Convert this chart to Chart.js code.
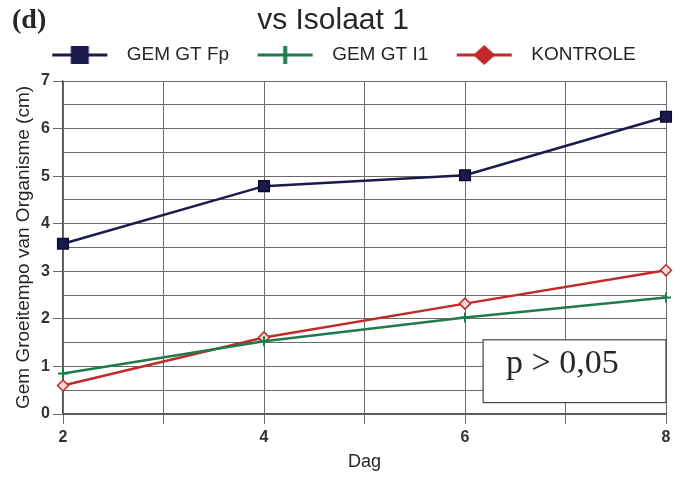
<!DOCTYPE html>
<html>
<head>
<meta charset="utf-8">
<script src="https://cdn.jsdelivr.net/npm/chart.js@4.4.1/dist/chart.umd.min.js"></script>
<style>
  html, body { margin: 0; padding: 0; background: #fff; }
  #wrap { width: 683px; height: 478px; }
</style>
</head>
<body>
<div id="wrap"><canvas id="groeiChart" width="683" height="478"></canvas></div>
<script>
// days measured and mean growth per group
const dagen = [2, 4, 6, 8];
const gemFp = [3.58, 4.79, 5.02, 6.25];
const gemI1 = [0.85, 1.53, 2.03, 2.45];
const kontrole = [0.60, 1.61, 2.32, 3.02];

const seriesNames = ['GEM GT Fp', 'GEM GT I1', 'KONTROLE'];
const seriesColors = ['#1b1a4f', '#1f7a4c', '#c22a2a'];
const pLabel = 'p > 0,05';

const gridColor = '#6a6a6a';
const textColor = '#262626';

function toPoints(values) {
    return values.map((v, i) => ({x: dagen[i], y: v}));
}

// legend swatch: short line with the series marker in the middle
function legendSwatch(color, style) {
    const c = document.createElement('canvas');
    c.width = 87;
    c.height = 20;
    const g = c.getContext('2d');
    const x0 = 22, x1 = 77, cx = (x0 + x1) / 2, cy = 10;
    g.strokeStyle = color;
    g.fillStyle = color;
    g.lineWidth = 3;
    g.beginPath();
    g.moveTo(x0, cy);
    g.lineTo(x1, cy);
    g.stroke();
    if (style === 'rect') {
        g.fillRect(cx - 9, cy - 9, 18, 18);
    } else if (style === 'cross') {
        g.lineWidth = 4;
        g.beginPath();
        g.moveTo(cx, cy - 9);
        g.lineTo(cx, cy + 9);
        g.stroke();
    } else {
        g.beginPath();
        g.moveTo(cx, cy - 10);
        g.lineTo(cx + 11, cy);
        g.lineTo(cx, cy + 10);
        g.lineTo(cx - 11, cy);
        g.closePath();
        g.fill();
    }
    return c;
}

const swatches = [
    legendSwatch(seriesColors[0], 'rect'),
    legendSwatch(seriesColors[1], 'cross'),
    legendSwatch(seriesColors[2], 'diamond')
];

// panel letter and the p-value box
const extras = {
    id: 'extras',
    afterDatasetsDraw(chart) {
        const {ctx, chartArea, scales} = chart;
        const left = scales.x.getPixelForValue(6.18);
        const right = chartArea.right;
        const top = scales.y.getPixelForValue(1.56);
        const bottom = scales.y.getPixelForValue(0.24);
        ctx.save();
        ctx.fillStyle = '#fff';
        ctx.fillRect(left, top, right - left, bottom - top);
        ctx.strokeStyle = '#444';
        ctx.lineWidth = 1.2;
        ctx.strokeRect(left, top, right - left, bottom - top);
        ctx.fillStyle = textColor;
        ctx.font = '34px "Liberation Serif", serif';
        ctx.textBaseline = 'alphabetic';
        ctx.fillText(pLabel, left + 23, top + 33);
        ctx.restore();
    },
    afterDraw(chart) {
        const ctx = chart.ctx;
        ctx.save();
        ctx.fillStyle = textColor;
        ctx.font = 'bold 28px "Liberation Serif", serif';
        ctx.textBaseline = 'alphabetic';
        ctx.fillText('(d)', 12, 28);
        ctx.restore();
    }
};

const ctx = document.getElementById('groeiChart').getContext('2d');
const chart = new Chart(ctx, {
    type: 'line',
    data: {
        datasets: [
            {
                label: seriesNames[0],
                data: toPoints(gemFp),
                borderColor: seriesColors[0],
                backgroundColor: seriesColors[0],
                borderWidth: 2.5,
                pointStyle: 'rect',
                pointRadius: 7.5,
                pointBorderColor: '#0d0c2a',
                pointBorderWidth: 1.5,
                clip: 12
            },
            {
                label: seriesNames[1],
                data: toPoints(gemI1),
                borderColor: seriesColors[1],
                backgroundColor: seriesColors[1],
                borderWidth: 2.5,
                pointStyle: 'cross',
                pointRadius: 5,
                pointBorderWidth: 2,
                clip: 12
            },
            {
                label: seriesNames[2],
                data: toPoints(kontrole),
                borderColor: seriesColors[2],
                backgroundColor: '#f3d6d6',
                borderWidth: 2.5,
                pointStyle: 'rectRot',
                pointRadius: 5.5,
                pointBorderWidth: 1.5,
                clip: 12
            }
        ]
    },
    options: {
        responsive: false,
        animation: false,
        layout: {padding: {left: 0, right: 17, top: 0, bottom: 0}},
        plugins: {
            title: {
                display: true,
                text: 'vs Isolaat 1',
                color: textColor,
                font: {family: '"Liberation Sans", Arial, sans-serif', size: 30, weight: 'normal'},
                padding: {top: 3, bottom: 0}
            },
            legend: {
                display: true,
                labels: {
                    usePointStyle: true,
                    pointStyleWidth: 87,
                    padding: 6.5,
                    color: textColor,
                    font: {family: '"Liberation Sans", Arial, sans-serif', size: 19},
                    generateLabels(chart) {
                        return chart.data.datasets.map((ds, i) => ({
                            text: ds.label,
                            pointStyle: swatches[i],
                            fillStyle: ds.borderColor,
                            strokeStyle: ds.borderColor,
                            lineWidth: 0,
                            fontColor: textColor,
                            datasetIndex: i,
                            hidden: false
                        }));
                    }
                }
            },
            tooltip: {enabled: false}
        },
        scales: {
            x: {
                type: 'linear',
                min: 2,
                max: 8,
                afterFit(scale) { scale.height = 64; },
                ticks: {
                    stepSize: 1,
                    padding: 4,
                    color: '#333',
                    font: {family: '"Liberation Sans", Arial, sans-serif', size: 16, weight: 'bold'},
                    callback: v => (v % 2 === 0 ? v : '')
                },
                grid: {color: gridColor, lineWidth: 1, tickLength: 10, tickColor: gridColor},
                border: {color: '#555', width: 1.2},
                title: {
                    display: true,
                    text: 'Dag',
                    color: textColor,
                    font: {family: '"Liberation Sans", Arial, sans-serif', size: 18},
                    padding: {top: 0, bottom: 5}
                }
            },
            // empty top axis, keeps a small gap under the legend
            gap: {
                type: 'linear',
                position: 'top',
                display: true,
                afterFit(scale) { scale.height = 6.5; },
                ticks: {display: false},
                grid: {display: false},
                border: {display: false}
            },
            y: {
                min: 0,
                max: 7,
                afterFit(scale) { scale.width = 63; },
                ticks: {
                    stepSize: 0.5,
                    padding: 3,
                    color: '#333',
                    font: {family: '"Liberation Sans", Arial, sans-serif', size: 16, weight: 'bold'},
                    callback: v => (Number.isInteger(v) ? v : '')
                },
                grid: {
                    color: gridColor,
                    lineWidth: 1,
                    tickLength: 10,
                    tickColor: c => (Number.isInteger(c.tick.value) ? gridColor : 'rgba(0,0,0,0)')
                },
                border: {color: '#555', width: 1.2},
                title: {
                    display: true,
                    text: 'Gem Groeitempo van Organisme (cm)',
                    color: textColor,
                    font: {family: '"Liberation Sans", Arial, sans-serif', size: 19},
                    padding: {top: 12.5, bottom: 0}
                }
            }
        }
    },
    plugins: [extras]
});
</script>
</body>
</html>
